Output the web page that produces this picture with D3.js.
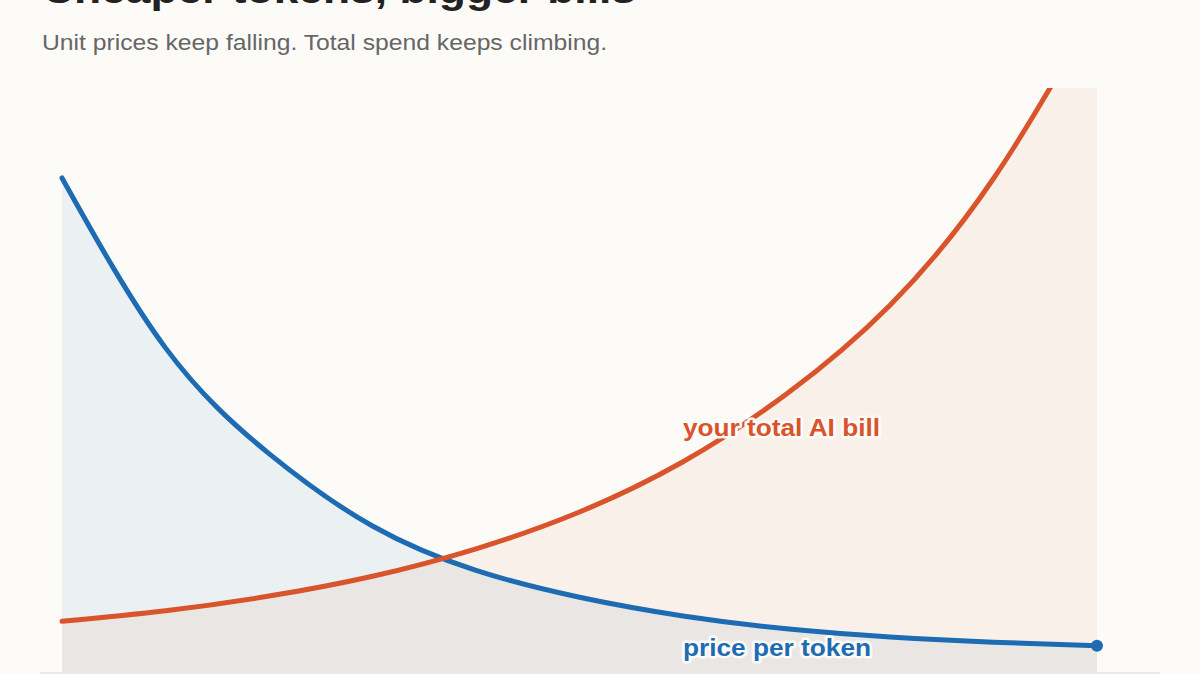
<!DOCTYPE html>
<html><head><meta charset="utf-8">
<script src="https://cdn.jsdelivr.net/npm/d3@7"></script>
<style>
html,body{margin:0;padding:0;background:#fcfbf8;}
svg{display:block;}
text{font-family:"Liberation Sans",Arial,sans-serif;}
</style></head>
<body>
<svg id="chart" width="1200" height="674"></svg>
<script>
const periods = [0,1,2,3,4,5,6,7,8,9,10];
const pricePerToken = [84.6,55.5,37.4,25.0,17.4,12.8,9.6,7.4,6.0,5.1,4.5];
const totalBill = [8.7,10.5,13.0,16.4,21.1,27.4,36.0,47.6,62.8,84.5,114.0];
const title = "Cheaper tokens, bigger bills";
const subtitle = "Unit prices keep falling. Total spend keeps climbing.";
const labelBill = "your total AI bill";
const labelPrice = "price per token";

(function(){
const blue = "#1d6bb2", orange = "#d9542a", bg = "#fcfbf8";
const svg = d3.select("#chart");
const pl = 62, pr = 1097, pt = 88, pb = 672;

const x = d3.scaleLinear().domain([0,10]).range([pl,pr]);
const y = d3.scaleLinear().domain([0,100]).range([pb,pt]);

svg.append("rect").attr("width",1200).attr("height",674).attr("fill",bg);

svg.append("text").attr("x",42).attr("y",3).attr("font-size",38).attr("font-weight","bold")
  .attr("fill","#222").attr("textLength",594).attr("lengthAdjust","spacingAndGlyphs").text(title);
svg.append("text").attr("x",42).attr("y",50).attr("font-size",22)
  .attr("fill","#666").attr("textLength",565).attr("lengthAdjust","spacingAndGlyphs").text(subtitle);

const defs = svg.append("defs");
defs.append("clipPath").attr("id","plot").append("rect")
  .attr("x",pl-4).attr("y",pt).attr("width",pr-pl+8).attr("height",pb-pt+10);
defs.append("clipPath").attr("id","plotA").append("rect")
  .attr("x",pl).attr("y",pt).attr("width",pr-pl).attr("height",pb-pt+10);

const priceData = periods.map((p,i)=>({p,v:pricePerToken[i]}));
const billData = periods.map((p,i)=>({p,v:totalBill[i]}));
const curve = d3.curveNatural;
const area = d3.area().x(d=>x(d.p)).y0(pb).y1(d=>y(d.v)).curve(curve);
const line = d3.line().x(d=>x(d.p)).y(d=>y(d.v)).curve(curve);

const ga = svg.append("g").attr("clip-path","url(#plotA)");
ga.append("path").datum(priceData).attr("d",area).attr("fill",blue).attr("fill-opacity",0.075);
ga.append("path").datum(billData).attr("d",area).attr("fill",orange).attr("fill-opacity",0.065);

const g = svg.append("g").attr("clip-path","url(#plot)");
g.append("path").datum(priceData).attr("d",line).attr("fill","none").attr("stroke",blue)
  .attr("stroke-width",5).attr("stroke-linecap","round");
g.append("path").datum(billData).attr("d",line).attr("fill","none").attr("stroke",orange)
  .attr("stroke-width",5).attr("stroke-linecap","round");

svg.append("circle").attr("cx",x(10)).attr("cy",y(pricePerToken[10])).attr("r",6).attr("fill",blue);

svg.append("rect").attr("x",40).attr("y",pb).attr("width",1120).attr("height",3).attr("fill","#ebe9e2");

function label(txt, px, py, col, len){
  svg.append("text").attr("x",px).attr("y",py).attr("font-size",23).attr("font-weight","bold")
    .attr("fill",col).attr("stroke",bg).attr("stroke-width",5).attr("stroke-linejoin","round")
    .attr("paint-order","stroke").attr("textLength",len).attr("lengthAdjust","spacingAndGlyphs").text(txt);
}
label(labelBill, x(6), y(totalBill[6]) - 26, orange, 197);
label(labelPrice, x(6), y(pricePerToken[6]) + 40, blue, 188);
})();
</script>
</body></html>
